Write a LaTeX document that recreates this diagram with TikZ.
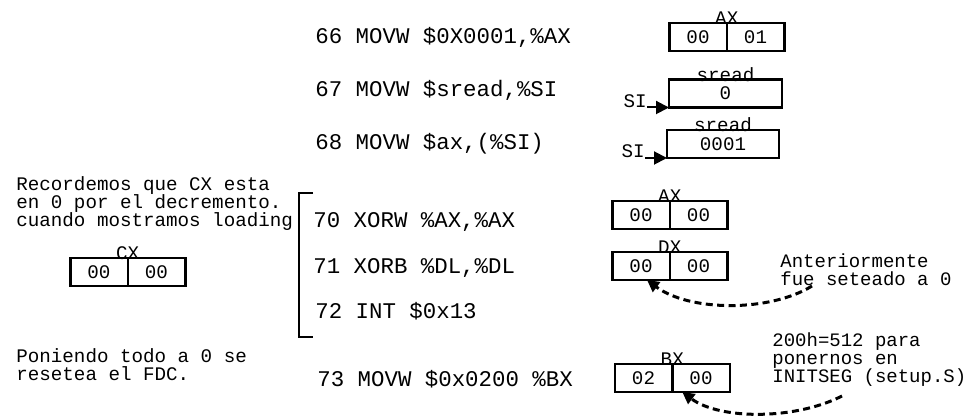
\documentclass[tikz,border=0pt]{standalone}
\usepackage{fontspec}
\usetikzlibrary{positioning,arrows.meta}
\newfontfamily\monofont{Liberation Mono}
\newcommand\codefont{\monofont\fontsize{11.2}{13}\selectfont}
\newcommand\notefont{\monofont\fontsize{9.6}{9}\selectfont}
\newcommand\farnotefont{\monofont\fontsize{9.5}{9.2}\selectfont}
\tikzset{
  code/.style={font=\codefont, anchor=base west, inner sep=0pt},
  note/.style={font=\notefont, align=left, anchor=base west, inner sep=0pt},
  cell/.style={draw, line width=1.25pt, minimum width=28.75pt, minimum height=14pt,
    inner sep=0pt, outer sep=0pt, font=\notefont},
  regname/.style={font=\notefont, anchor=base, inner sep=0pt},
  siarrow/.style={line width=1pt, -{Triangle[length=6.5pt,width=6.5pt]}},
  notearrow/.style={line width=1.5pt, dash pattern=on 3.5pt off 2.2pt,
    -{Triangle[length=6pt,width=6pt]}},
}
\begin{document}
\begin{tikzpicture}[x=0.5pt,y=0.5pt,line cap=butt,line join=miter]
  \useasboundingbox (0,0) rectangle (970,417);
  % code
  \node[code] (l66) at (315,373) {66 MOVW \$0X0001,\%AX};
  \node[code] (l67) at (315,320) {67 MOVW \$sread,\%SI};
  \node[code] (l68) at (315,267) {68 MOVW \$ax,(\%SI)};
  \node[code] (l70) at (313,189) {70 XORW \%AX,\%AX};
  \node[code] (l71) at (313,143) {71 XORB \%DL,\%DL};
  \node[code] (l72) at (315,98) {72 INT \$0x13};
  \node[code] (l73) at (317,30) {73 MOVW \$0x0200 \%BX};
  \coordinate (brtop) at (313,224);
  \coordinate (brbot) at (313,80);
  \draw[line width=1.1pt] (brtop) -- ++(-14,0) |- (brbot);
  % registers
  \node[cell] (ax1h) at (698,380) {00};
  \node[cell,right=0pt of ax1h] (ax1l) {01};
  \node[regname] at ([yshift=-1pt]ax1h.north east) {AX};
  \node[cell,minimum width=56.5pt] (sread1) at (725.5,323.5) {0};
  \node[regname] at ([yshift=-1pt]sread1.north) {sread};
  \node[regname,anchor=base east] (si1) at ([xshift=-11pt]sread1.south west) {SI};
  \draw[siarrow] (si1.base east) -- (sread1.south west);
  \node[cell,minimum width=56pt] (sread2) at (723,273) {0001};
  \node[regname] at ([yshift=-1pt]sread2.north) {sread};
  \node[regname,anchor=base east] (si2) at ([xshift=-11pt]sread2.south west) {SI};
  \draw[siarrow] (si2.base east) -- (sread2.south west);
  \node[cell] (ax2h) at (641,202) {00};
  \node[cell,right=0pt of ax2h] (ax2l) {00};
  \node[regname] at ([yshift=-1pt]ax2h.north east) {AX};
  \node[cell] (dxh) at (641,151) {00};
  \node[cell,right=0pt of dxh] (dxl) {00};
  \node[regname] at ([yshift=-1pt]dxh.north east) {DX};
  \node[cell] (bxh) at (643.5,39) {02};
  \node[cell,right=0pt of bxh] (bxl) {00};
  \node[regname] at ([yshift=-1pt]bxh.north east) {BX};
  \node[cell] (cxh) at (99,145) {00};
  \node[cell,right=0pt of cxh] (cxl) {00};
  \node[regname] at ([yshift=-1pt]cxh.north east) {CX};
  % notes (base = last line)
  \node[note] (cxnote) at (16,190) {Recordemos que CX esta\\en 0 por el decremento.\\cuando mostramos loading};
  \node[note] (fdcnote) at (16,36) {Poniendo todo a 0 se\\resetea el FDC.};
  \node[note,font=\farnotefont] (dxnote) at (780,131) {Anteriormente\\fue seteado a 0};
  \node[note,font=\farnotefont] (bxnote) at (772,34) {200h=512 para\\ponernos en\\INITSEG (setup.S)};
  \coordinate (dxfrom) at (812,131);
  \coordinate (bxfrom) at (842,21);
  \draw[notearrow] (dxfrom) .. controls (770,105) and (690,105) .. ([xshift=3pt]dxh.south);
  \draw[notearrow] (bxfrom) .. controls (795,-3) and (720,-3) .. ([xshift=5pt]bxh.south east);
\end{tikzpicture}
\end{document}
